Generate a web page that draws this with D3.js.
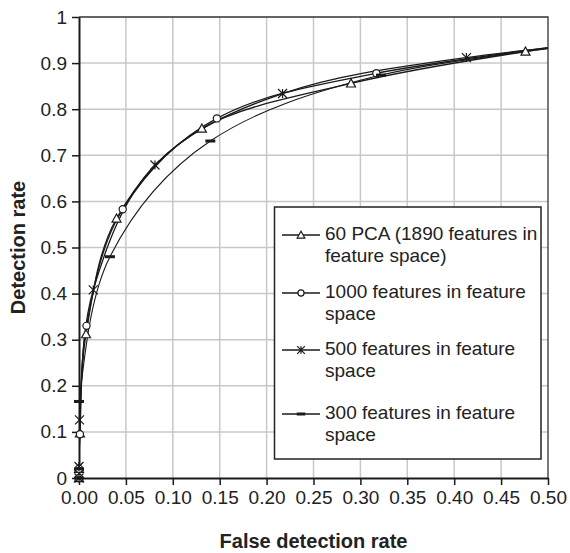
<!DOCTYPE html>
<html><head><meta charset="utf-8">
<script src="https://cdn.jsdelivr.net/npm/d3@7"></script>
<style>
html,body{margin:0;padding:0;background:#fff;}
svg{display:block;font-family:"Liberation Sans",Arial,sans-serif;}
</style></head>
<body><svg id="chart" width="570" height="553"></svg>
<script>
// ---- data ----
const xTicks = [0,0.05,0.10,0.15,0.20,0.25,0.30,0.35,0.40,0.45,0.50];
const yTicks = [0,0.1,0.2,0.3,0.4,0.5,0.6,0.7,0.8,0.9,1];
const seriesNames = ["60 PCA (1890 features in|feature space)","1000 features in feature|space","500 features in feature|space","300 features in feature|space"];
const seriesMarkers = ["triangle","circle","asterisk","dash"];
const pcaFdr  = [0,0,0.001,0.0075,0.040,0.131,0.290,0.476,0.70];
const pcaDr   = [0,0.02,0.097,0.312,0.563,0.758,0.856,0.925,0.985];
const f1000Fdr = [0,0,0.001,0.008,0.0466,0.147,0.317,0.62];
const f1000Dr  = [0,0.02,0.095,0.33,0.583,0.780,0.878,0.965];
const f500Fdr = [0,0,0.0005,0.0152,0.081,0.217,0.413,0.72];
const f500Dr  = [0,0.025,0.126,0.408,0.679,0.834,0.912,0.975];
const f300Fdr = [0,0,0,0.033,0.140,0.322,0.58];
const f300Dr  = [0,0.02,0.166,0.48,0.731,0.874,0.950];

// ---- layout ----
const L=79,R=548,T=17,B=478;
const legendRowY=[235,293,350,414];
const svg=d3.select("#chart");
const x=d3.scaleLinear().domain([0,0.5]).range([L,R]);
const y=d3.scaleLinear().domain([0,1]).range([B,T]);
const ink="#1a1a1a";

// grid
svg.append("g").selectAll("line").data(xTicks.filter(d=>d>0&&d<0.5)).join("line")
  .attr("x1",d=>x(d)).attr("x2",d=>x(d)).attr("y1",T).attr("y2",B)
  .attr("stroke","#c8c8c8").attr("stroke-width",1.5);
svg.append("g").selectAll("line").data(yTicks.filter(d=>d>0&&d<1)).join("line")
  .attr("y1",d=>y(d)).attr("y2",d=>y(d)).attr("x1",L).attr("x2",R)
  .attr("stroke","#c8c8c8").attr("stroke-width",1.5);
// frame top/right
svg.append("path").attr("d",`M${L},${T}H${R}V${B}`).attr("fill","none").attr("stroke","#333").attr("stroke-width",1.3);

// axes
const xAxis=d3.axisBottom(x).tickValues(xTicks).tickFormat(d3.format(".2f")).tickSizeInner(7).tickSizeOuter(0).tickPadding(5);
const gx=svg.append("g").attr("transform",`translate(0,${B})`).call(xAxis);
const yAxis=d3.axisLeft(y).tickValues(yTicks).tickFormat(d=>d===0?"0":d===1?"1":d3.format(".1f")(d)).tickSizeInner(7).tickSizeOuter(0).tickPadding(5);
const gy=svg.append("g").attr("transform",`translate(${L},0)`).call(yAxis);
[gx,gy].forEach(g=>{
  g.select(".domain").attr("stroke",ink).attr("stroke-width",2);
  g.selectAll(".tick line").attr("stroke",ink).attr("stroke-width",1.5);
  g.selectAll("text").attr("fill","#222").style("font-size","19px").style("font-family","'Liberation Sans',Arial,sans-serif");
});
gx.selectAll("text").attr("dy","0.75em");

// titles
svg.append("text").attr("x",(L+R)/2).attr("y",548).attr("text-anchor","middle")
  .style("font-size","20px").style("font-weight","bold").attr("fill","#222").text("False detection rate");
svg.append("text").attr("transform",`translate(24.5,${(T+B)/2}) rotate(-90)`).attr("text-anchor","middle")
  .style("font-size","20px").style("font-weight","bold").attr("fill","#222").text("Detection rate");

// clip
svg.append("clipPath").attr("id","plotclip").append("rect").attr("x",L-6).attr("y",T-6).attr("width",R-L+6).attr("height",B-T+12);

const series=[
  {fdr:pcaFdr,dr:pcaDr},{fdr:f1000Fdr,dr:f1000Dr},{fdr:f500Fdr,dr:f500Dr},{fdr:f300Fdr,dr:f300Dr}
].map((s,i)=>({name:seriesNames[i],marker:seriesMarkers[i],pts:s.fdr.map((v,j)=>[v,s.dr[j]])}));

const line=d3.line().x(d=>x(d[0])).y(d=>y(d[1])).curve(d3.curveCardinal.tension(0));
svg.append("clipPath").attr("id","lineclip").append("rect").attr("x",L).attr("y",T-6).attr("width",R-L).attr("height",B-T+12);
const gLines=svg.append("g").attr("clip-path","url(#lineclip)");
series.forEach((s,i)=>{
  gLines.append("path").attr("d",line(s.pts)).attr("fill","none").attr("stroke",ink).attr("stroke-width",i===3?1.1:1.3);
});

function drawMarker(g,type,cx,cy,scale){
  scale=scale||1;
  if(type==="triangle"){
    const s=4.5*scale;
    g.append("path").attr("d",`M${cx},${cy-s}L${cx+s},${cy+s*0.8}L${cx-s},${cy+s*0.8}Z`).attr("fill","#fff").attr("stroke",ink).attr("stroke-width",1.2);
  } else if(type==="circle"){
    g.append("circle").attr("cx",cx).attr("cy",cy).attr("r",3.6*scale).attr("fill","#fff").attr("stroke",ink).attr("stroke-width",1.2);
  } else if(type==="asterisk"){
    const s=4.5*scale;
    g.append("path").attr("d",`M${cx-s},${cy-s}L${cx+s},${cy+s}M${cx-s},${cy+s}L${cx+s},${cy-s}M${cx},${cy-s}V${cy+s}`).attr("stroke",ink).attr("stroke-width",1.2);
  } else if(type==="dash"){
    g.append("rect").attr("x",cx-5*scale).attr("y",cy-1.5).attr("width",10*scale).attr("height",3).attr("fill",ink);
  }
}
const gMarks=svg.append("g").attr("clip-path","url(#plotclip)");
series.forEach(s=>{
  s.pts.forEach(p=>{ if(p[0]<=0.5) drawMarker(gMarks,s.marker,x(p[0]),y(p[1])); });
});

// legend
const lg=svg.append("g");
lg.append("rect").attr("x",274.5).attr("y",207).attr("width",266.5).attr("height",252).attr("fill","#fff").attr("stroke","#222").attr("stroke-width",1.5);
series.forEach((s,i)=>{
  const ly=legendRowY[i];
  lg.append("line").attr("x1",282).attr("x2",320).attr("y1",ly).attr("y2",ly).attr("stroke",ink).attr("stroke-width",1.3);
  drawMarker(lg,s.marker,301,ly,0.85);
  const parts=s.name.split("|");
  const t=lg.append("text").attr("x",325).attr("y",ly+4.8).style("font-size","19px").attr("fill","#222");
  parts.forEach((p,k)=>t.append("tspan").attr("x",325).attr("dy",k===0?0:22).text(p));
});
</script></body></html>
